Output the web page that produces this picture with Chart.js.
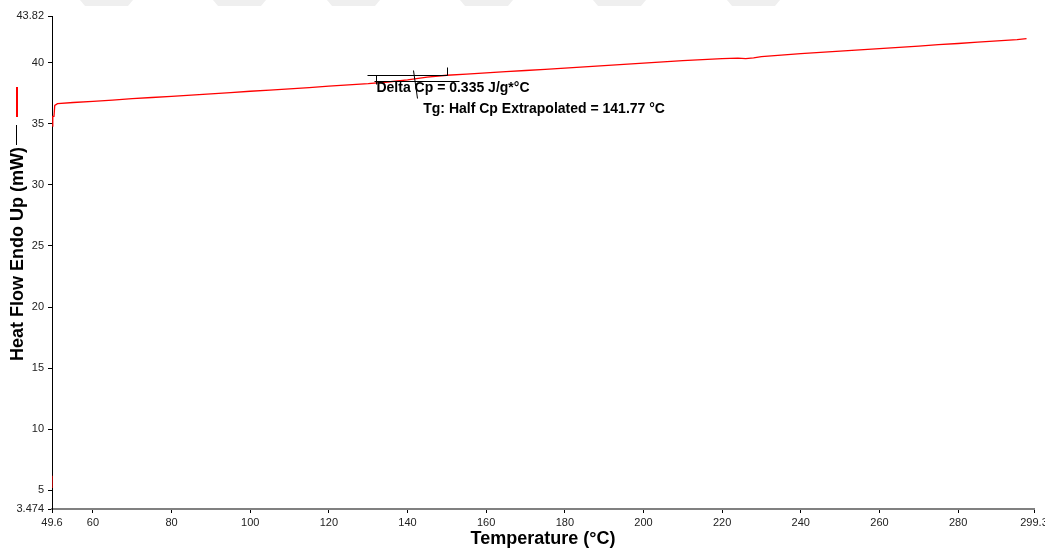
<!DOCTYPE html>
<html>
<head>
<meta charset="utf-8">
<script src="https://cdn.jsdelivr.net/npm/chart.js@4.4.1/dist/chart.umd.min.js"></script>
<style>
  html, body { margin: 0; padding: 0; background: #fff; }
  #wrap { width: 1045px; height: 552px; }
</style>
</head>
<body>
<div id="wrap"><canvas id="dsc"></canvas></div>
<script>
// DSC curve (temperature in C, heat flow in mW)
var temps = [49.6, 49.6, 49.65, 49.7, 49.8, 50.1, 50.3, 51, 55, 60, 65, 70, 75, 80, 85, 90, 95, 100, 105, 110, 115, 120, 125, 130, 135, 140, 145, 150, 155, 160, 165, 170, 175, 180, 185, 190, 195, 200, 205, 210, 215, 220, 224, 226, 228, 230, 235, 240, 245, 250, 255, 260, 265, 270, 275, 280, 285, 290, 295, 297.4];
var heatFlow = [5.2, 6.2, null, 34.8, 35.6, 35.6, 36.5, 36.65, 36.74, 36.84, 36.94, 37.05, 37.15, 37.25, 37.35, 37.45, 37.55, 37.66, 37.76, 37.86, 37.96, 38.08, 38.18, 38.28, 38.42, 38.6, 38.82, 38.97, 39.06, 39.16, 39.26, 39.36, 39.46, 39.56, 39.66, 39.76, 39.86, 39.96, 40.06, 40.16, 40.25, 40.33, 40.38, 40.33, 40.40, 40.50, 40.62, 40.74, 40.84, 40.95, 41.05, 41.15, 41.25, 41.36, 41.47, 41.57, 41.68, 41.78, 41.88, 41.97];

var xTicks = [49.6, 60, 80, 100, 120, 140, 160, 180, 200, 220, 240, 260, 280, 299.3];
var yTicks = [3.474, 5, 10, 15, 20, 25, 30, 35, 40, 43.82];

// Tg construction lines [x1, y1, x2, y2] in data units
var tgLines = [
  [129.8, 38.99, 150.1, 38.99],
  [132.1, 38.99, 132.1, 38.27],
  [150.1, 39.67, 150.1, 38.99],
  [131.6, 38.48, 153.2, 38.48],
  [141.5, 39.40, 142.5, 37.10]
];
var tgTexts = [
  ['Delta Cp = 0.335 J/g*°C', 132.1, 37.95],
  ['Tg: Half Cp Extrapolated = 141.77 °C', 144.0, 36.22]
];

var points = [];
for (i = 0; i < temps.length; i++) {
  points.push({ x: temps[i], y: heatFlow[i] });
}

var extras = {
  id: 'extras',
  beforeDraw: function(chart) {
    var ctx = chart.ctx;
    ctx.save();
    ctx.fillStyle = '#efefef';
    var starts = [80, 213, 327, 460, 593, 727];
    starts.forEach(function(s) {
      ctx.beginPath();
      ctx.moveTo(s, 0);
      ctx.lineTo(s + 53, 0);
      ctx.lineTo(s + 48, 6);
      ctx.lineTo(s + 5, 6);
      ctx.closePath();
      ctx.fill();
    });
    ctx.restore();
  },
  afterDraw: function(chart) {
    var ctx = chart.ctx;
    var xs = chart.scales.x, ys = chart.scales.y;
    ctx.save();
    ctx.strokeStyle = '#000';
    ctx.lineWidth = 1;
    tgLines.forEach(function(l) {
      ctx.beginPath();
      ctx.moveTo(Math.round(xs.getPixelForValue(l[0])) + 0.5, Math.round(ys.getPixelForValue(l[1])) + 0.5);
      ctx.lineTo(Math.round(xs.getPixelForValue(l[2])) + 0.5, Math.round(ys.getPixelForValue(l[3])) + 0.5);
      ctx.stroke();
    });
    ctx.fillStyle = '#000';
    ctx.font = 'bold 14px "Liberation Sans", Arial, sans-serif';
    ctx.textBaseline = 'middle';
    ctx.textAlign = 'left';
    tgTexts.forEach(function(t) {
      ctx.fillText(t[0], xs.getPixelForValue(t[1]), ys.getPixelForValue(t[2]));
    });

    // y axis title with its line samples
    ctx.translate(18, 254);
    ctx.rotate(-Math.PI / 2);
    ctx.font = 'bold 18px "Liberation Sans", Arial, sans-serif';
    ctx.textAlign = 'center';
    ctx.fillText('Heat Flow Endo Up (mW)', 0, 0);
    ctx.lineWidth = 1;
    ctx.beginPath();
    ctx.moveTo(129, -1.5);
    ctx.lineTo(109, -1.5);
    ctx.stroke();
    ctx.strokeStyle = '#ff0000';
    ctx.lineWidth = 2;
    ctx.beginPath();
    ctx.moveTo(167, -1);
    ctx.lineTo(137, -1);
    ctx.stroke();
    ctx.restore();
  }
};

new Chart(document.getElementById('dsc'), {
  type: 'scatter',
  data: {
    datasets: [{
      label: 'Heat Flow',
      data: points,
      showLine: true,
      spanGaps: false,
      borderColor: '#ff0000',
      borderWidth: 1.3,
      pointRadius: 0,
      tension: 0
    }]
  },
  options: {
    responsive: true,
    maintainAspectRatio: false,
    animation: false,
    layout: { padding: { top: 16, right: 11, left: 0, bottom: 0 } },
    plugins: { legend: { display: false }, tooltip: { enabled: false } },
    scales: {
      x: {
        type: 'linear',
        min: 49.6,
        max: 299.3,
        afterBuildTicks: function(s) { s.ticks = xTicks.map(function(v) { return { value: v }; }); },
        afterFit: function(s) { s.height = 43; s.paddingLeft = 0; s.paddingRight = 0; },
        grid: { drawOnChartArea: false, drawTicks: true, tickLength: 4, color: '#000' },
        border: { color: '#808080', width: 2 },
        ticks: {
          autoSkip: false, maxRotation: 0, padding: 3, color: '#222',
          font: { family: '"Liberation Sans", Arial, sans-serif', size: 11 },
          callback: function(v) { return String(v); }
        },
        title: {
          display: true,
          text: 'Temperature (°C)',
          color: '#000',
          font: { family: '"Liberation Sans", Arial, sans-serif', size: 18, weight: 'bold' },
          padding: { top: 0, bottom: 2 }
        }
      },
      y: {
        type: 'linear',
        min: 3.474,
        max: 43.82,
        afterBuildTicks: function(s) { s.ticks = yTicks.map(function(v) { return { value: v }; }); },
        afterFit: function(s) { s.width = 52; s.paddingTop = 0; s.paddingBottom = 0; },
        grid: { drawOnChartArea: false, drawTicks: true, tickLength: 4, color: '#000' },
        border: { color: '#000', width: 1 },
        ticks: {
          autoSkip: false, padding: 4, color: '#222',
          font: { family: '"Liberation Sans", Arial, sans-serif', size: 11 },
          callback: function(v) { return String(v); }
        }
      }
    }
  },
  plugins: [extras]
});
</script>
</body>
</html>
